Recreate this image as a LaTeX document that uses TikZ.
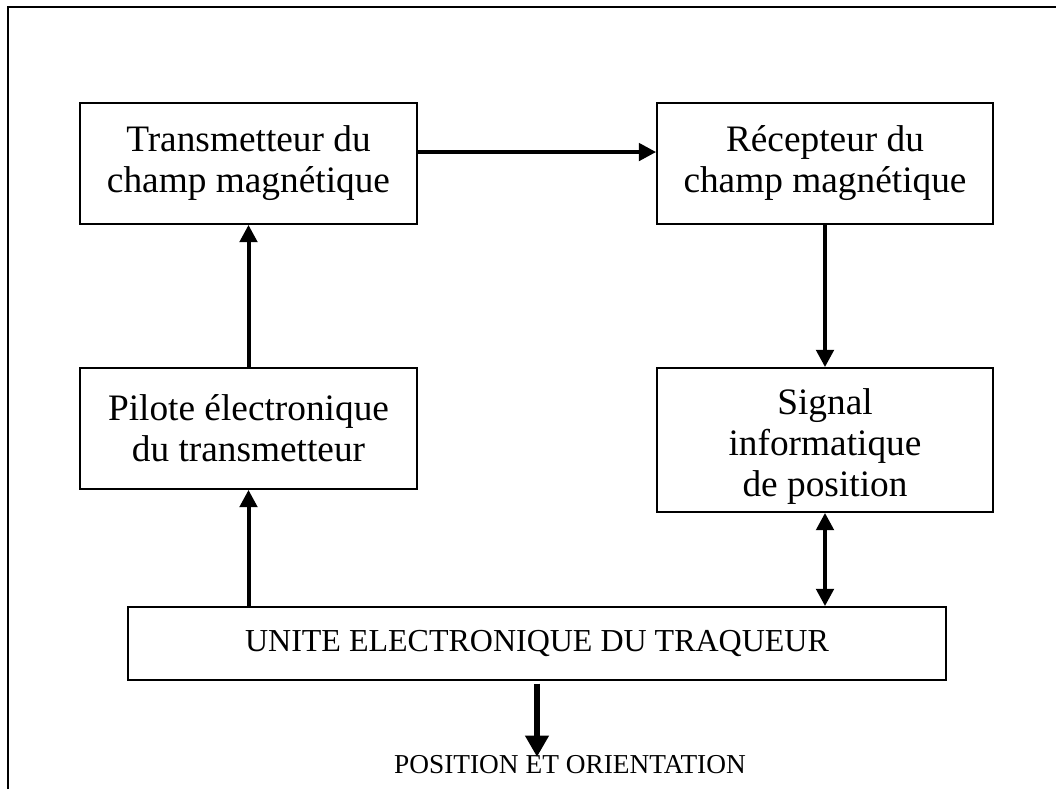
\documentclass[tikz,border=0pt]{standalone}
\usepackage{fontspec}
\setmainfont{Liberation Serif}
\usetikzlibrary{arrows.meta}

\begin{document}
\begin{tikzpicture}[x=0.75pt, y=-0.75pt,
  boite/.style = {draw, line width=1.3pt, inner sep=0pt, align=center,
    font=\fontsize{28}{30.75}\selectfont},
  fleche/.style = {line width=3pt, -{Triangle[length=13pt,width=13pt]}},
  grosse/.style = {line width=5pt, -{Triangle[length=16pt,width=17pt]}},
  double/.style = {line width=3pt, {Triangle[length=13pt,width=13pt]}-{Triangle[length=13pt,width=13pt]}}]
	\useasboundingbox (0,0) rectangle (1056,789);
	\draw[line width=2.2pt] (8,789) -- (8,7) -- (1056,7);
	\node[boite, minimum width=252.75pt, minimum height=90.75pt] (T) at (248.5,163.5) {Transmetteur du\\champ magnétique};
	\node[boite, minimum width=252pt, minimum height=90.75pt] (R) at (825,163.5) {Récepteur du\\champ magnétique};
	\node[boite, minimum width=252.75pt, minimum height=90.75pt] (P) at (248.5,428.5) {Pilote électronique\\du transmetteur};
	\node[boite, minimum width=252pt, minimum height=108pt] (S) at (825,440) {\rule{0pt}{29pt}Signal\\informatique\\de position};
	\node[boite, minimum width=613.5pt, minimum height=54.75pt, font=\fontsize{24}{28}\selectfont] (U) at (537,643.5) {UNITE ELECTRONIQUE DU TRAQUEUR};
	\node[inner sep=0pt, font=\fontsize{20.5}{24}\selectfont] (O) at (570,765) {POSITION ET ORIENTATION};
	\draw[fleche] ([yshift=8.6pt]T.east) -- ([yshift=8.6pt]R.west);
	\draw[fleche] (R) -- (S);
	\draw[fleche] (P) -- (T);
	\draw[fleche] (U.north -| P.south) -- (P.south);
	\draw[double] (S.south) -- (S.south |- U.north);
	\draw[grosse] ([yshift=-2pt]U.south) -- ([yshift=-1pt]U.south |- O.north);
\end{tikzpicture}
\end{document}
